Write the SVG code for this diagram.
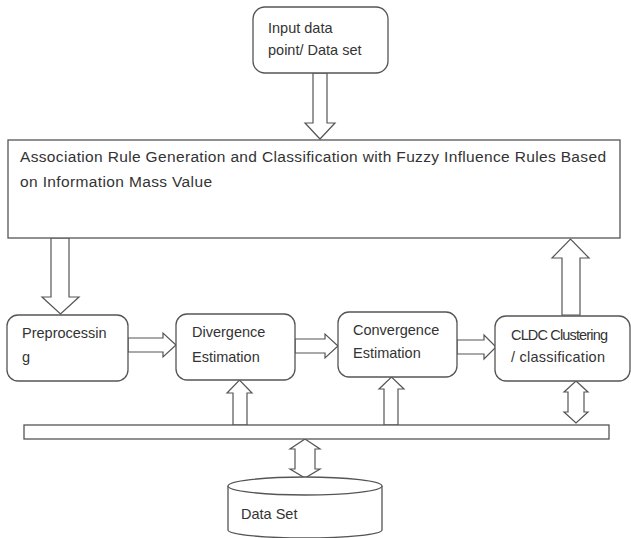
<svg xmlns="http://www.w3.org/2000/svg" width="631" height="538" viewBox="0 0 631 538">
<style>
.box{fill:#fff;stroke:#555;stroke-width:1.3}
.arr{fill:#fff;stroke:#555;stroke-width:1.2;stroke-linejoin:miter}
text{font-family:"Liberation Sans",Arial,sans-serif;fill:#333;font-size:14.5px}
.big{font-size:15.5px}
</style>
<rect width="631" height="538" fill="#fff"/>
<g id="connectors">
<polygon class="arr" points="313,73 327,73 327,123 335,123 320,139 305,123 313,123"/>
<polygon class="arr" points="51,238 69,238 69,297 79,297 60.5,314 42,297 51,297"/>
<polygon class="arr" points="128,338 163,338 163,333 176,345 163,357 163,352 128,352"/>
<polygon class="arr" points="295,339 325,339 325,334 338,346 325,358 325,353 295,353"/>
<polygon class="arr" points="457,340 484,340 484,335 496,347 484,359 484,354 457,354"/>
<polygon class="arr" points="233,425 233,393 227,393 239.5,380 252,393 247,393 247,425"/>
<polygon class="arr" points="384,425 384,389 379,389 391.5,377 404,389 398,389 398,425"/>
<polygon class="arr" points="562,315 562,258 552,258 570.5,239 589,258 580,258 580,315"/>
<polygon class="arr" points="576,381 588,392 584,392 584,412 588,412 576,423 564,412 568,412 568,392 564,392"/>
<polygon class="arr" points="305,439 320,449 315,449 315,469 320,469 305,478 290,469 295,469 295,449 290,449"/>
</g>
<g id="input">
<rect class="box" x="253" y="7" width="135" height="66" rx="12"/>
<text x="268" y="33">Input data</text>
<text x="268" y="55">point/ Data set</text>
</g>
<g id="association">
<rect class="box" x="8" y="140" width="612" height="98"/>
<text class="big" x="20" y="162" textLength="586" lengthAdjust="spacing">Association Rule Generation and Classification with Fuzzy Influence Rules Based</text>
<text class="big" x="20" y="187" textLength="192" lengthAdjust="spacing">on Information Mass Value</text>
</g>
<g id="preprocessing">
<rect class="box" x="7" y="315" width="121" height="66" rx="11"/>
<text x="22" y="338">Preprocessin</text>
<text x="22" y="362">g</text>
</g>
<g id="divergence">
<rect class="box" x="176" y="314" width="119" height="66" rx="11"/>
<text x="192" y="337">Divergence</text>
<text x="192" y="362">Estimation</text>
</g>
<g id="convergence">
<rect class="box" x="338" y="312" width="119" height="65" rx="11"/>
<text x="353" y="335">Convergence</text>
<text x="353" y="358">Estimation</text>
</g>
<g id="cldc">
<rect class="box" x="495" y="316" width="135" height="65" rx="11"/>
<text x="511" y="340" textLength="97" lengthAdjust="spacing">CLDC Clustering</text>
<text x="511" y="362" textLength="94" lengthAdjust="spacing">/ classification</text>
</g>
<g id="bar">
<rect class="box" x="24" y="425" width="585" height="14"/>
</g>
<g id="dataset">
<path class="box" d="M228,486 L228,530 A77,8 0 0 0 382,530 L382,486"/>
<ellipse class="box" cx="305" cy="486" rx="77" ry="9"/>
<text x="241" y="519">Data Set</text>
</g>
</svg>
